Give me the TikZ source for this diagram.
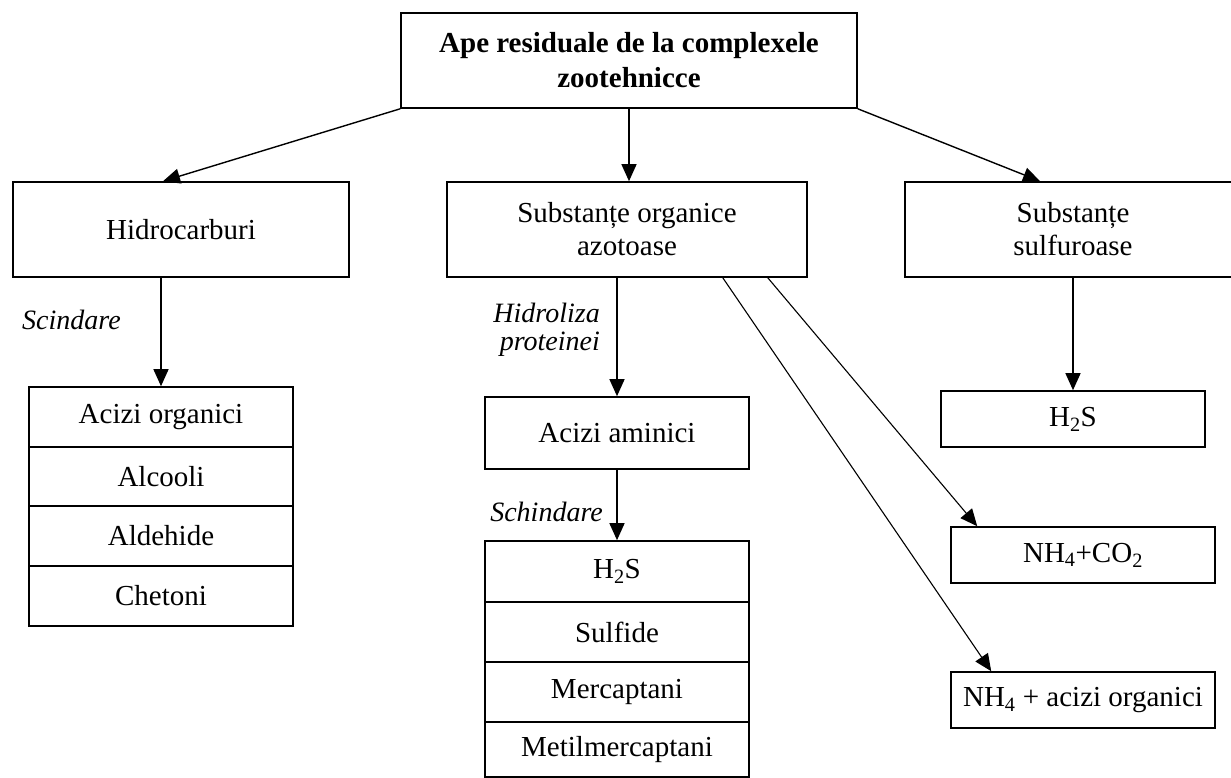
\documentclass[tikz,border=0pt]{standalone}
\usepackage{fontspec}
\setmainfont{Liberation Serif}
\usetikzlibrary{arrows.meta,calc}
\begin{document}
\begin{tikzpicture}[x=1pt,y=-1pt,
  box/.style={draw,line width=1.6pt,inner sep=0pt,align=center,font=\fontsize{29}{33}\selectfont},
  lbl/.style={inner sep=0pt,font=\fontsize{28}{28}\selectfont\itshape},
  arr/.style={line width=1.4pt,-{Triangle[length=17pt,width=15pt]}},
  darr/.style={line width=1.1pt,-{Triangle[length=17pt,width=15pt]}}]
\useasboundingbox (0,0) rectangle (1231,778);
\clip (0,0) rectangle (1231,778);
% top
\node[box,minimum width=456pt,minimum height=95pt,font=\fontsize{29}{35}\selectfont\bfseries] (top) at (629,60.5) {Ape residuale de la complexele\\zootehnicce};
% second level
\node[box,minimum width=336pt,minimum height=95pt] (hidro) at (181,229.5) {Hidrocarburi};
\node[box,minimum width=360pt,minimum height=95pt] (azot) at (627,229.5) {Substanțe organice\\azotoase};
\node[box,minimum width=336pt,minimum height=95pt] (sulf) at (1073,229.5) {Substanțe\\sulfuroase};
% left stack
\node[box,minimum width=264pt,minimum height=60pt] (l1) at (161,417) {Acizi organici};
\node[box,minimum width=264pt,minimum height=59pt] (l2) at (161,476.5) {Alcooli};
\node[box,minimum width=264pt,minimum height=60pt] (l3) at (161,536) {Aldehide};
\node[box,minimum width=264pt,minimum height=60pt] (l4) at (161,596) {Chetoni};
% middle
\node[box,minimum width=264pt,minimum height=72pt] (am) at (617,433) {Acizi aminici};
\node[box,minimum width=264pt,minimum height=61pt] (m1) at (617,571.5) {H\textsubscript{2}S};
\node[box,minimum width=264pt,minimum height=60pt] (m2) at (617,632) {Sulfide};
\node[box,minimum width=264pt,minimum height=60pt] (m3) at (617,692) {Mercaptani};
\node[box,minimum width=264pt,minimum height=55pt] (m4) at (617,749.5) {Metilmercaptani};
% right
\node[box,minimum width=264pt,minimum height=56pt] (hs) at (1073,419) {H\textsubscript{2}S};
\node[box,minimum width=264pt,minimum height=56pt] (nco) at (1083,555) {NH\textsubscript{4}+CO\textsubscript{2}};
\node[box,minimum width=264pt,minimum height=56pt] (nac) at (1083,700) {NH\textsubscript{4} + acizi organici};
% labels
\node[lbl,anchor=west] (sc) at (22,320) {Scindare};
\node[lbl,anchor=east,align=right] (hp) at (600,330) {Hidroliza\\proteinei};
\node[lbl,anchor=east] (sch) at (603,512) {Schindare};
% arrows
\draw[arr] (top.south west) -- ($(hidro.north)+(-18,0)$);
\draw[arr] (top.south) -- (top.south |- azot.north);
\draw[arr] (top.south east) -- ($(sulf.north)+(-33,0)$);
\draw[arr] (l1.north |- hidro.south) -- (l1.north);
\draw[arr] (am.north |- azot.south) -- (am.north);
\draw[arr] (am.south) -- (m1.north);
\draw[arr] (sulf.south) -- (hs.north);
\draw[darr] ($(azot.south east)+(-40,0)$) -- ($(nco.north west)+(27,0)$);
\draw[darr] ($(azot.south east)+(-85,0)$) -- ($(nac.north west)+(41,0)$);
\end{tikzpicture}
\end{document}
